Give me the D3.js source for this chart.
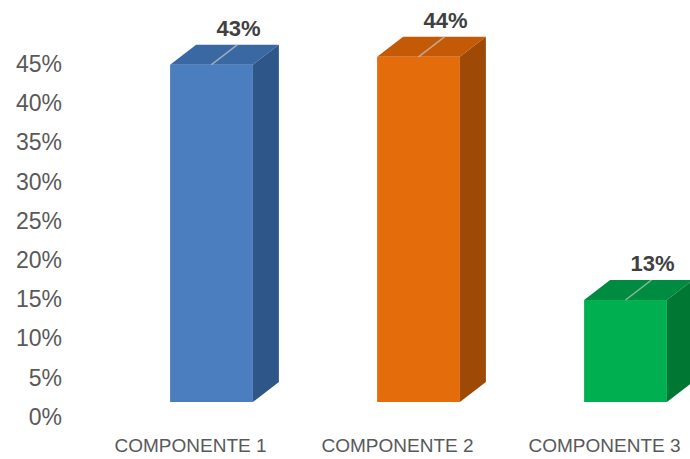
<!DOCTYPE html>
<html>
<head>
<meta charset="utf-8">
<script src="https://cdn.jsdelivr.net/npm/d3@7"></script>
<style>
  body { margin: 0; background: #fff; }
  text { font-family: "Liberation Sans", Arial, sans-serif; }
</style>
</head>
<body>
<div id="chart"></div>
<script>
// chart data
var categories = ["COMPONENTE 1", "COMPONENTE 2", "COMPONENTE 3"]
var values = [43, 44, 13]
var valueLabels = ["43%", "44%", "13%"]
var yTicks = [0, 5, 10, 15, 20, 25, 30, 35, 40, 45]

var frontColors = ["#4a7ebf", "#e46c0a", "#00b050"]
var topColors = ["#3a68a3", "#c45a06", "#008c40"]
var sideColors = ["#2f5689", "#9e4906", "#007733"]

var width = 690, height = 459
var depthX = 26, depthY = 20   // 3d offset of the bar back
var axisShift = 15             // tick labels sit lower than the bar floor

var svg = d3.select("#chart").append("svg")
  .attr("width", width)
  .attr("height", height)

var x = d3.scaleBand()
  .domain(categories)
  .range([108, 729])
  .paddingInner(0.6)
  .paddingOuter(0.3)

var y = d3.scaleLinear()
  .domain([0, 45])
  .range([402, 49])

// y axis labels
var yAxis = d3.axisLeft(y)
  .tickValues(yTicks)
  .tickSize(0)
  .tickPadding(0)
  .tickFormat(function (d) { return d + "%" })

var yg = svg.append("g")
  .attr("transform", "translate(62," + axisShift + ")")
  .call(yAxis)
yg.select(".domain").remove()
yg.selectAll("text")
  .style("font-size", "23px")
  .style("font-family", "'Liberation Sans', Arial, sans-serif")
  .attr("fill", "#595959")

// bars
var bars = svg.selectAll("g.bar")
  .data(values)
  .enter().append("g")
  .attr("class", "bar")

bars.append("rect")
  .attr("x", function (d, i) { return x(categories[i]) })
  .attr("y", function (d) { return y(d) })
  .attr("width", x.bandwidth())
  .attr("height", function (d) { return y(0) - y(d) })
  .attr("fill", function (d, i) { return frontColors[i] })

bars.append("polygon")
  .attr("points", function (d, i) {
    var x0 = x(categories[i]), x1 = x0 + x.bandwidth(), yt = y(d)
    return [[x0, yt], [x1, yt], [x1 + depthX, yt - depthY], [x0 + depthX, yt - depthY]].join(" ")
  })
  .attr("fill", function (d, i) { return topColors[i] })

bars.append("polygon")
  .attr("points", function (d, i) {
    var x1 = x(categories[i]) + x.bandwidth(), yt = y(d), yb = y(0)
    return [[x1, yt], [x1 + depthX, yt - depthY], [x1 + depthX, yb - depthY], [x1, yb]].join(" ")
  })
  .attr("fill", function (d, i) { return sideColors[i] })

// leader lines across the top face
bars.append("line")
  .attr("x1", function (d, i) { return x(categories[i]) + x.bandwidth() / 2 })
  .attr("y1", function (d) { return y(d) })
  .attr("x2", function (d, i) { return x(categories[i]) + x.bandwidth() / 2 + depthX })
  .attr("y2", function (d) { return y(d) - depthY })
  .attr("stroke", "#c8c8c8")
  .attr("stroke-opacity", 0.7)
  .attr("stroke-width", 1.5)

// value labels
bars.append("text")
  .attr("x", function (d, i) { return x(categories[i]) + x.bandwidth() / 2 + depthX + 1 })
  .attr("y", function (d) { return y(d) - depthY - 9 })
  .attr("text-anchor", "middle")
  .style("font-size", "22px")
  .style("font-weight", "bold")
  .attr("fill", "#404040")
  .text(function (d, i) { return valueLabels[i] })

// category labels
svg.selectAll("text.cat")
  .data(categories)
  .enter().append("text")
  .attr("class", "cat")
  .attr("x", function (d) { return x(d) + x.bandwidth() / 2 - 21 })
  .attr("y", 452)
  .attr("text-anchor", "middle")
  .style("font-size", "19px")
  .attr("fill", "#595959")
  .text(function (d) { return d })
</script>
</body>
</html>
